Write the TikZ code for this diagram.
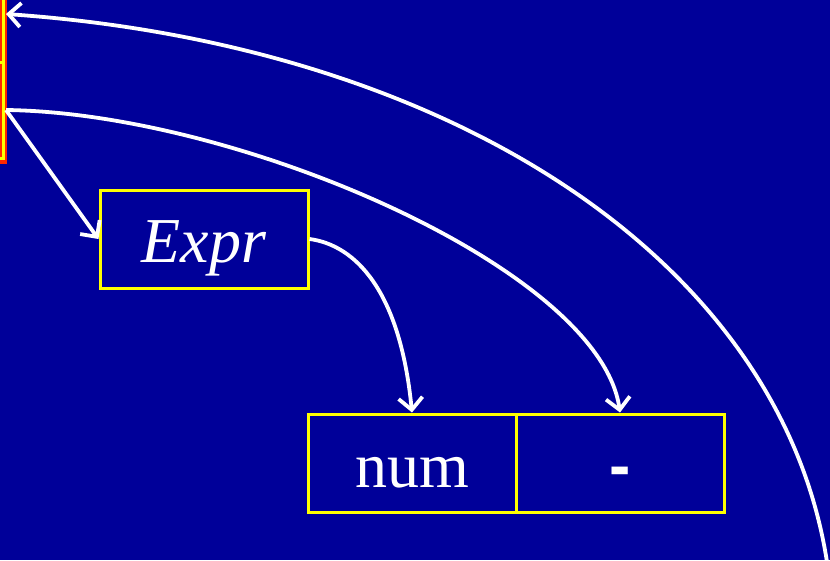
\documentclass[tikz,border=0pt]{standalone}
\usepackage{fontspec}
\setmainfont{Liberation Serif}
\newfontfamily\dashfont{Liberation Sans}
\usetikzlibrary{arrows.meta}
\definecolor{bgblue}{RGB}{0,0,153}
\definecolor{boxyellow}{RGB}{255,255,0}
\definecolor{boxred}{RGB}{255,40,0}
\begin{document}
\begin{tikzpicture}[x=1pt,y=-1pt,
  cell/.style={draw=boxyellow,line width=3pt,minimum width=208pt,minimum height=98pt,inner sep=0pt,text=white,text height=48pt,text depth=0pt,font=\fontsize{64}{70}\selectfont},
  link/.style={draw=white,line width=3.8pt,-{Straight Barb[length=12pt,width=24pt,line width=3.8pt]}}]
\fill[bgblue] (0,0) rectangle (830,560);
\useasboundingbox (0,0) rectangle (830,560);
% clipped boxes at left edge
\draw[boxred,line width=7pt] (-30,-30) rectangle (3,160);
\draw[boxyellow,line width=3pt] (-30,-30) rectangle (3,158);
\draw[boxyellow,line width=3pt] (-30,62) -- (3,62);
\coordinate (top) at (6,14);
\coordinate (mid) at (6,110);
\coordinate (bot) at (827,562);
\node[cell,text height=46pt,font=\fontsize{64}{70}\selectfont\itshape] (expr) at (204,239) {Expr};
\node[cell] (num) at (412,463) {num};
\node[cell,font=\fontsize{64}{70}\selectfont\dashfont\bfseries] (minus) at (620,463) {-};
\draw[link] (bot) .. controls (780,260) and (450,45) .. (top);
\draw[link] (mid) .. controls (240,113) and (600,270) .. (minus.north);
\draw[link] (mid) -- (expr.west);
\draw[link] (expr.east) .. controls (355,245) and (400,290) .. (num.north);
\end{tikzpicture}
\end{document}
